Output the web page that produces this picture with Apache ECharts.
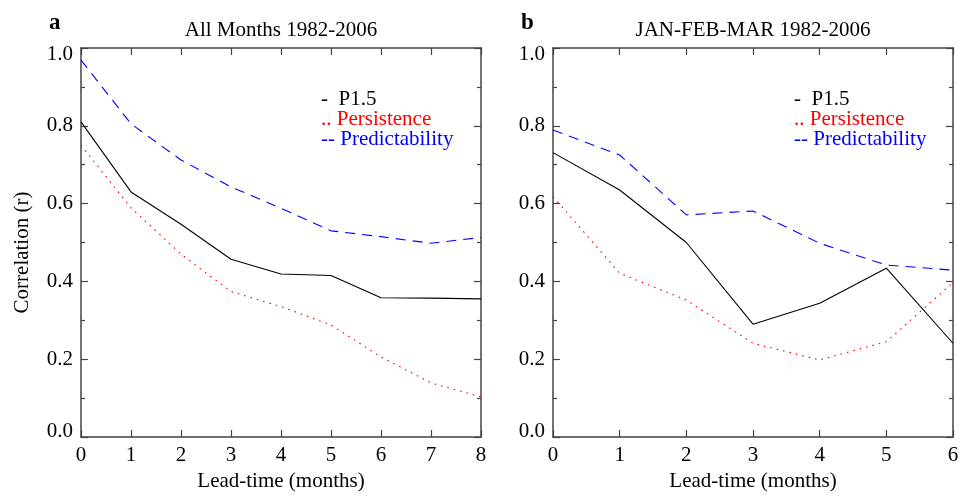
<!DOCTYPE html>
<html><head><meta charset="utf-8">
<script src="https://cdn.jsdelivr.net/npm/echarts@6/dist/echarts.min.js"></script>
<style>html,body{margin:0;padding:0;background:#fff}#c{width:960px;height:496px}</style>
</head><body><div id="c"></div>
<script>
const leadA = [0,1,2,3,4,5,6,7,8];
const p15A = [0.81,0.63,0.547,0.457,0.419,0.415,0.358,0.357,0.355];
const persA = [0.75,0.589,0.47,0.374,0.335,0.288,0.206,0.139,0.103];
const predA = [0.969,0.805,0.712,0.643,0.588,0.53,0.515,0.498,0.513];

const leadB = [0,1,2,3,4,5,6];
const p15B = [0.731,0.635,0.50,0.29,0.344,0.434,0.241];
const persB = [0.618,0.421,0.352,0.241,0.198,0.245,0.397];
const predB = [0.789,0.725,0.571,0.581,0.498,0.442,0.429];

const yTicks = [0.0,0.2,0.4,0.6,0.8,1.0];
const titleA = 'All Months 1982-2006';
const titleB = 'JAN-FEB-MAR 1982-2006';
const legendNames = ['P1.5','Persistence','Predictability'];

const FONT = '"Liberation Serif", "DejaVu Serif", serif';
const frame = {show:true, lineStyle:{color:'#444', width:1.5}};

function xAxes(gi, max){
  return [
    {gridIndex:gi, type:'value', min:0, max:max, interval:1, position:'bottom',
     axisLine:Object.assign({onZero:false},frame),
     axisTick:{show:true, inside:true, length:7, lineStyle:{color:'#444',width:1.2}},
     axisLabel:{show:true, margin:8, color:'#000', fontFamily:FONT, fontSize:21},
     splitLine:{show:false},
     name:'Lead-time (months)', nameLocation:'middle', nameGap:30,
     nameTextStyle:{color:'#000', fontFamily:FONT, fontSize:21}},
    {gridIndex:gi, type:'value', min:0, max:max, interval:1, position:'top',
     axisLine:Object.assign({onZero:false},frame),
     axisTick:{show:true, inside:true, length:7, lineStyle:{color:'#444',width:1.2}},
     axisLabel:{show:false}, splitLine:{show:false}}
  ];
}
function yAxes(gi, named){
  return [
    {gridIndex:gi, type:'value', min:0, max:1, interval:0.2, position:'left',
     axisLine:Object.assign({onZero:false},frame),
     axisTick:{show:true, inside:true, length:7, lineStyle:{color:'#444',width:1.2}},
     minorTick:{show:true, splitNumber:2, length:4, lineStyle:{color:'#444',width:1.2}},
     axisLabel:{show:true, margin:8, color:'#000', fontFamily:FONT, fontSize:21,
       formatter:v=>{
         const t=yTicks.find(k=>Math.abs(k-v)<1e-6);
         if(t===undefined) return '';
         const s=t.toFixed(1);
         if(t===yTicks[0]) return '{lo|'+s+'}';
         if(t===yTicks[yTicks.length-1]) return '{hi|'+s+'}';
         return s;},
       rich:{
         lo:{fontFamily:FONT, fontSize:21, color:'#000', padding:[0,0,12,0]},
         hi:{fontFamily:FONT, fontSize:21, color:'#000', padding:[13,0,0,0]}
       }},
     splitLine:{show:false}, minorSplitLine:{show:false},
     name: named ? 'Correlation (r)' : '', nameLocation:'middle', nameGap:48, nameRotate:90,
     nameTextStyle:{color:'#000', fontFamily:FONT, fontSize:21, padding:[0,20,0,0]}},
    {gridIndex:gi, type:'value', min:0, max:1, interval:0.2, position:'right',
     axisLine:Object.assign({onZero:false},frame),
     axisTick:{show:true, inside:true, length:7, lineStyle:{color:'#444',width:1.2}},
     minorTick:{show:true, splitNumber:2, length:4, lineStyle:{color:'#444',width:1.2}},
     axisLabel:{show:false}, splitLine:{show:false}, minorSplitLine:{show:false}}
  ];
}
function pairs(xs, ys){ return xs.map((x,i)=>[x, ys[i]]); }
function lineSeries(xi, yi, xs, ys, color, type, name){
  return {type:'line', name:name, xAxisIndex:xi, yAxisIndex:yi, data:pairs(xs,ys),
    showSymbol:false, symbol:'none', animation:false, silent:true,
    lineStyle:{color:color, width:1.1, type:type}};
}
const dashT = [10,7];
const dotT = [1.6,5];

const option = {
  backgroundColor:'#fff',
  animation:false,
  grid:[
    {left:81, top:48, width:400, height:389, containLabel:false, outerBoundsMode:'none'},
    {left:553, top:48, width:400, height:389, containLabel:false, outerBoundsMode:'none'}
  ],
  xAxis:[...xAxes(0,8), ...xAxes(1,6)],
  yAxis:[...yAxes(0,true), ...yAxes(1,false)],
  series:[
    lineSeries(0,0,leadA,p15A,'#000','solid',legendNames[0]),
    lineSeries(0,0,leadA,persA,'#ff0000',dotT,legendNames[1]),
    lineSeries(0,0,leadA,predA,'#0000ff',dashT,legendNames[2]),
    lineSeries(2,2,leadB,p15B,'#000','solid',legendNames[0]),
    lineSeries(2,2,leadB,persB,'#ff0000',dotT,legendNames[1]),
    lineSeries(2,2,leadB,predB,'#0000ff',dashT,legendNames[2])
  ],
  graphic:[
    {type:'text', left:49, top:12, style:{text:'a', font:'bold 23px '+FONT, fill:'#000'}},
    {type:'text', left:521, top:12, style:{text:'b', font:'bold 23px '+FONT, fill:'#000'}},
    {type:'text', x:281, y:30, style:{text:titleA, font:'21px '+FONT, fill:'#000', align:'center', verticalAlign:'middle'}},
    {type:'text', x:753, y:30, style:{text:titleB, font:'21px '+FONT, fill:'#000', align:'center', verticalAlign:'middle'}},
    {type:'text', x:321, y:99, style:{text:'-  '+legendNames[0], font:'21px '+FONT, fill:'#000', verticalAlign:'middle'}},
    {type:'text', x:321, y:119, style:{text:'.. '+legendNames[1], font:'21px '+FONT, fill:'#ff0000', verticalAlign:'middle'}},
    {type:'text', x:321, y:139, style:{text:'-- '+legendNames[2], font:'21px '+FONT, fill:'#0000ff', verticalAlign:'middle'}},
    {type:'text', x:794, y:99, style:{text:'-  '+legendNames[0], font:'21px '+FONT, fill:'#000', verticalAlign:'middle'}},
    {type:'text', x:794, y:119, style:{text:'.. '+legendNames[1], font:'21px '+FONT, fill:'#ff0000', verticalAlign:'middle'}},
    {type:'text', x:794, y:139, style:{text:'-- '+legendNames[2], font:'21px '+FONT, fill:'#0000ff', verticalAlign:'middle'}}
  ]
};
const chart = echarts.init(document.getElementById('c'), null, {renderer:'canvas'});
chart.setOption(option);
</script></body></html>
